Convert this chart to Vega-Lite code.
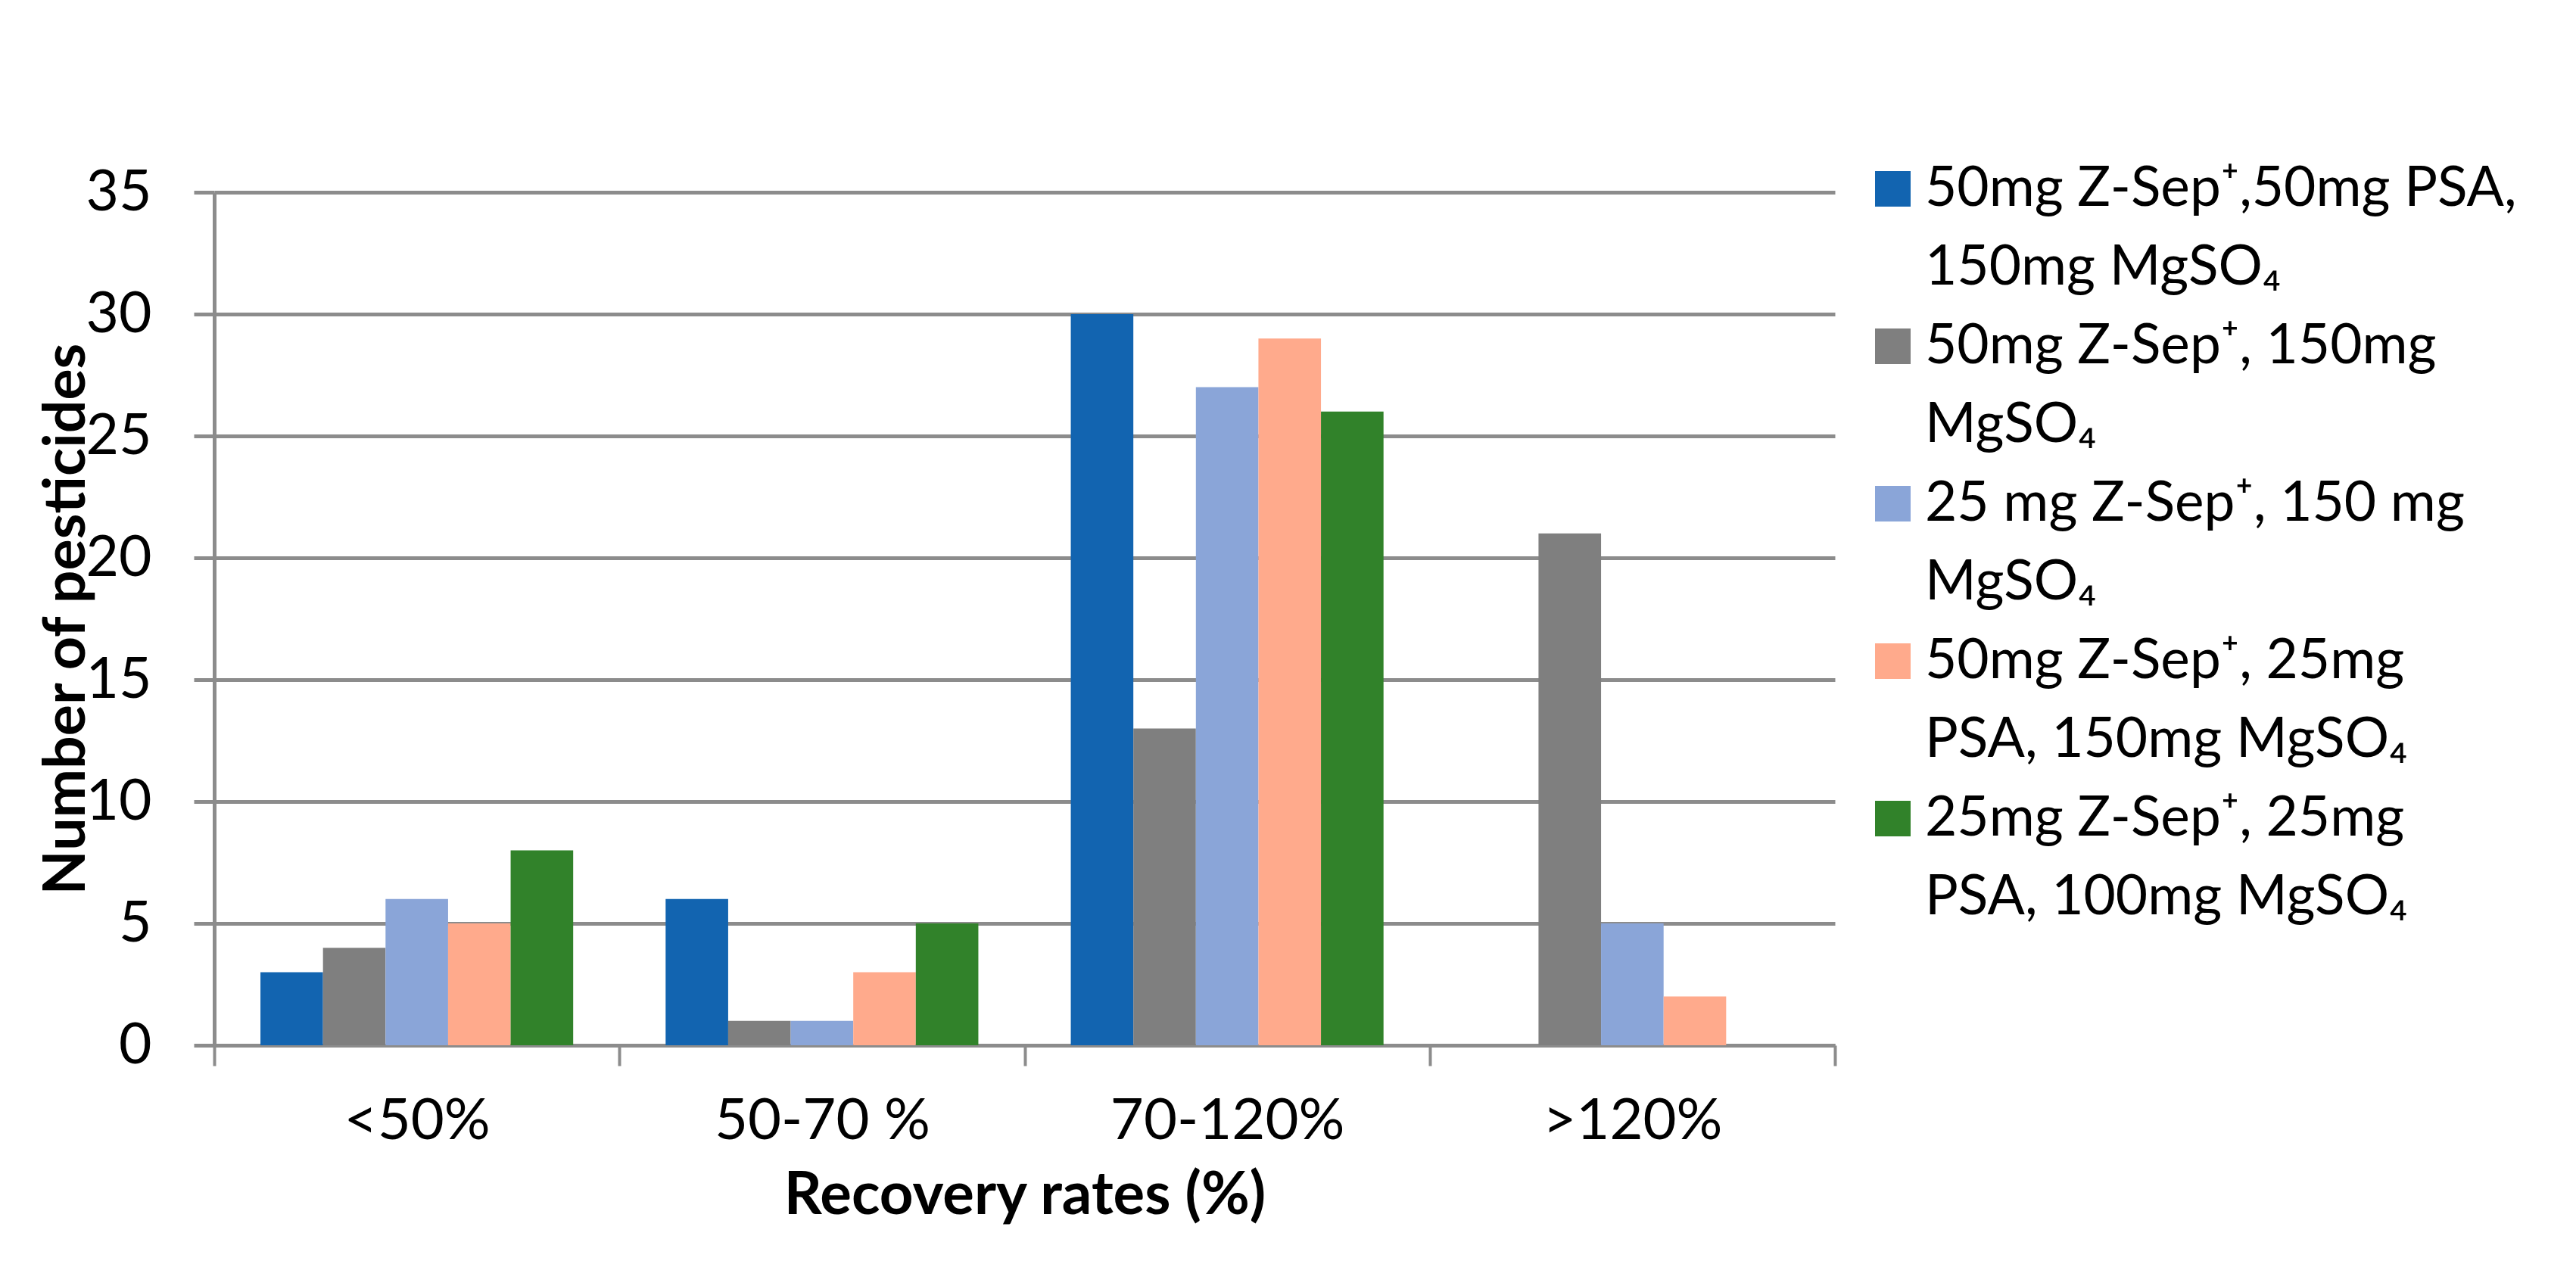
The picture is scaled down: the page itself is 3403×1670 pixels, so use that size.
{
  "$schema": "https://vega.github.io/schema/vega-lite/v6.json",
  "width": 2141,
  "height": 1127,
  "autosize": {"type": "none"},
  "padding": {"left": 283, "top": 254, "right": 979, "bottom": 289},
  "background": "white",
  "config": {"view": {"stroke": null}, "font": "Lato"},
  "data": {
    "values": [
      {"range": "<50%", "series": "50mg Z-Sep⁺,50mg PSA,|150mg MgSO₄", "count": 3},
      {"range": "<50%", "series": "50mg Z-Sep⁺, 150mg|MgSO₄", "count": 4},
      {"range": "<50%", "series": "25 mg Z-Sep⁺, 150 mg|MgSO₄", "count": 6},
      {"range": "<50%", "series": "50mg Z-Sep⁺, 25mg|PSA, 150mg MgSO₄", "count": 5},
      {"range": "<50%", "series": "25mg Z-Sep⁺, 25mg|PSA, 100mg MgSO₄", "count": 8},
      {"range": "50-70 %", "series": "50mg Z-Sep⁺,50mg PSA,|150mg MgSO₄", "count": 6},
      {"range": "50-70 %", "series": "50mg Z-Sep⁺, 150mg|MgSO₄", "count": 1},
      {"range": "50-70 %", "series": "25 mg Z-Sep⁺, 150 mg|MgSO₄", "count": 1},
      {"range": "50-70 %", "series": "50mg Z-Sep⁺, 25mg|PSA, 150mg MgSO₄", "count": 3},
      {"range": "50-70 %", "series": "25mg Z-Sep⁺, 25mg|PSA, 100mg MgSO₄", "count": 5},
      {"range": "70-120%", "series": "50mg Z-Sep⁺,50mg PSA,|150mg MgSO₄", "count": 30},
      {"range": "70-120%", "series": "50mg Z-Sep⁺, 150mg|MgSO₄", "count": 13},
      {"range": "70-120%", "series": "25 mg Z-Sep⁺, 150 mg|MgSO₄", "count": 27},
      {"range": "70-120%", "series": "50mg Z-Sep⁺, 25mg|PSA, 150mg MgSO₄", "count": 29},
      {"range": "70-120%", "series": "25mg Z-Sep⁺, 25mg|PSA, 100mg MgSO₄", "count": 26},
      {"range": ">120%", "series": "50mg Z-Sep⁺,50mg PSA,|150mg MgSO₄", "count": 0},
      {"range": ">120%", "series": "50mg Z-Sep⁺, 150mg|MgSO₄", "count": 21},
      {"range": ">120%", "series": "25 mg Z-Sep⁺, 150 mg|MgSO₄", "count": 5},
      {"range": ">120%", "series": "50mg Z-Sep⁺, 25mg|PSA, 150mg MgSO₄", "count": 2},
      {"range": ">120%", "series": "25mg Z-Sep⁺, 25mg|PSA, 100mg MgSO₄", "count": 0}
    ]
  },
  "mark": {"type": "bar"},
  "encoding": {
    "x": {
      "field": "range",
      "type": "nominal",
      "sort": ["<50%", "50-70 %", "70-120%", ">120%"],
      "scale": {"paddingInner": 0, "paddingOuter": 0},
      "title": "Recovery rates (%)",
      "axis": {
        "labelAngle": 0,
        "labelFontSize": 76,
        "labelColor": "black",
        "labelPadding": 36,
        "labelLimit": 0,
        "tickBand": "extent",
        "tickSize": 27,
        "tickWidth": 4,
        "tickColor": "#8C8C8C",
        "domainColor": "#8C8C8C",
        "domainWidth": 5,
        "grid": false,
        "titleFontSize": 78,
        "titleFontWeight": "bold",
        "titleColor": "black",
        "titlePadding": 22
      }
    },
    "xOffset": {
      "field": "series",
      "type": "nominal",
      "scale": {
        "domain": [
          "50mg Z-Sep⁺,50mg PSA,|150mg MgSO₄",
          "50mg Z-Sep⁺, 150mg|MgSO₄",
          "25 mg Z-Sep⁺, 150 mg|MgSO₄",
          "50mg Z-Sep⁺, 25mg|PSA, 150mg MgSO₄",
          "25mg Z-Sep⁺, 25mg|PSA, 100mg MgSO₄"
        ],
        "paddingInner": 0,
        "paddingOuter": 0.739
      }
    },
    "y": {
      "field": "count",
      "type": "quantitative",
      "scale": {"domain": [0, 35], "nice": false},
      "title": "Number of pesticides",
      "axis": {
        "values": [0, 5, 10, 15, 20, 25, 30, 35],
        "tickSize": 27,
        "tickWidth": 5,
        "tickColor": "#8C8C8C",
        "domainColor": "#8C8C8C",
        "domainWidth": 5,
        "grid": true,
        "gridColor": "#8C8C8C",
        "gridWidth": 5,
        "labelFontSize": 75,
        "labelColor": "black",
        "labelPadding": 56,
        "titleFontSize": 77,
        "titleFontWeight": "bold",
        "titleColor": "black",
        "titlePadding": -14
      }
    },
    "color": {
      "field": "series",
      "type": "nominal",
      "scale": {
        "domain": [
          "50mg Z-Sep⁺,50mg PSA,|150mg MgSO₄",
          "50mg Z-Sep⁺,50mg PSA,|150mg MgSO₄|",
          "50mg Z-Sep⁺, 150mg|MgSO₄",
          "50mg Z-Sep⁺, 150mg|MgSO₄|",
          "25 mg Z-Sep⁺, 150 mg|MgSO₄",
          "25 mg Z-Sep⁺, 150 mg|MgSO₄|",
          "50mg Z-Sep⁺, 25mg|PSA, 150mg MgSO₄",
          "50mg Z-Sep⁺, 25mg|PSA, 150mg MgSO₄|",
          "25mg Z-Sep⁺, 25mg|PSA, 100mg MgSO₄",
          "25mg Z-Sep⁺, 25mg|PSA, 100mg MgSO₄|"
        ],
        "range": ["#1264B0", "transparent", "#7F7F7F", "transparent", "#8AA5D8", "transparent", "#FFAA8C", "transparent", "#31822A", "transparent"]
      },
      "legend": {
        "orient": "none",
        "legendX": 2181,
        "legendY": -41,
        "title": null,
        "symbolType": "square",
        "symbolSize": 2209,
        "symbolStrokeWidth": 0,
        "labelFontSize": 73,
        "labelColor": "black",
        "labelLimit": 1200,
        "labelOffset": 6,
        "rowPadding": 30,
        "labelExpr": "split(datum.label,'|')[length(split(datum.label,'|'))-2]"
      }
    }
  }
}
